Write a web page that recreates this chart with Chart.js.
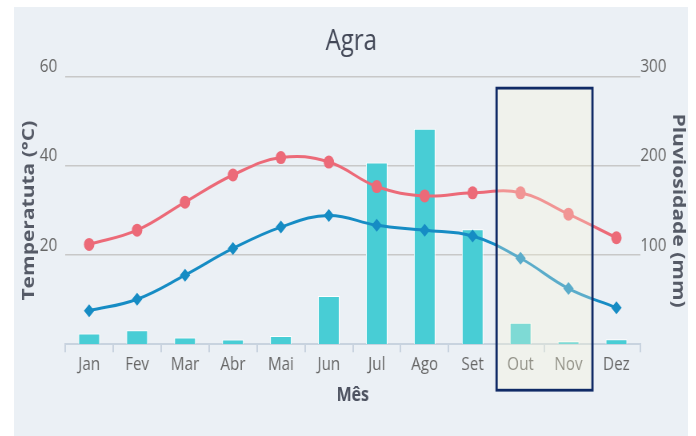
<!doctype html>
<html>
    <head>
        <meta charset="UTF-8" />
        <title>Agra</title>
        <script src="https://cdn.jsdelivr.net/npm/chart.js"></script>
        <style>
            body { margin: 0; background: #ffffff; }
            #wrap { position: absolute; left: 14px; top: 7px; width: 674px; height: 429px; background: #ebf0f5; overflow: hidden; }
            /* the reference is squeezed sideways, so the chart is drawn wider and scaled down */
            #myChart { transform: scaleX(0.8); transform-origin: 0 0; }
        </style>
    </head>

    <body>
        <div id="wrap"><canvas id="myChart" width="843" height="429"></canvas></div>

        <script>
        // data
        var meses = ['Jan', 'Fev', 'Mar', 'Abr', 'Mai', 'Jun', 'Jul', 'Ago', 'Set', 'Out', 'Nov', 'Dez'];
        var tempMax = [22.4, 25.6, 31.9, 38, 41.9, 40.9, 35.4, 33.3, 34, 34, 29.2, 23.9];
        var tempMin = [7.5, 10.1, 15.5, 21.5, 26.3, 28.9, 26.7, 25.6, 24.3, 19.3, 12.5, 8.2];
        var chuva = [12, 15.7, 7.5, 5.3, 9.3, 54, 204, 242, 129, 24, 3.4, 5.6];
        var tempTicks = [20, 40, 60];
        var chuvaTicks = [100, 200, 300];

        // highlighted months (Out .. Nov)
        var destaqueInicio = 9;
        var destaqueFim = 10;

        var FONT = "'Open Sans', sans-serif";

        // draws the box over the highlighted months
        var destaquePlugin = {
            id: 'destaque',
            afterDatasetsDraw: function (chart) {
                var x = chart.scales.x, y = chart.scales.yTemp;
                var left = (x.getPixelForValue(destaqueInicio - 1) + x.getPixelForValue(destaqueInicio)) / 2;
                var right = (x.getPixelForValue(destaqueFim) + x.getPixelForValue(destaqueFim + 1)) / 2;
                var top = y.getPixelForValue(57.5);
                var bottom = chart.chartArea.bottom + 46;
                var c = chart.ctx;
                c.save();
                c.fillStyle = 'rgba(252, 247, 215, 0.3)';
                c.fillRect(left, top, right - left, bottom - top);
                c.strokeStyle = '#102a66';
                c.lineWidth = 2.8;
                c.strokeRect(left, top, right - left, bottom - top);
                c.restore();
            }
        };

        var ctx = document.getElementById('myChart').getContext('2d');
        var myChart = new Chart(ctx, {
            type: 'bar',
            data: {
                labels: meses,
                datasets: [{
                    type: 'line',
                    label: 'Máxima',
                    data: tempMax,
                    yAxisID: 'yTemp',
                    borderColor: '#ec6a78',
                    backgroundColor: '#ec6a78',
                    borderWidth: 3,
                    tension: 0.4,
                    pointStyle: 'circle',
                    pointRadius: 6.5,
                    pointBorderWidth: 0,
                    order: 0
                }, {
                    type: 'line',
                    label: 'Mínima',
                    data: tempMin,
                    yAxisID: 'yTemp',
                    borderColor: '#168cc4',
                    backgroundColor: '#168cc4',
                    borderWidth: 3,
                    tension: 0.4,
                    pointStyle: 'rectRot',
                    pointRadius: 6.5,
                    pointBorderWidth: 0,
                    order: 1
                }, {
                    type: 'bar',
                    label: 'Pluviosidade',
                    data: chuva,
                    yAxisID: 'yChuva',
                    backgroundColor: '#48cdd5',
                    borderColor: '#ffffff',
                    borderWidth: 1,
                    barPercentage: 0.45,
                    categoryPercentage: 1,
                    order: 2
                }]
            },
            options: {
                responsive: false,
                animation: false,
                layout: { padding: { left: 0, right: 0, top: 0, bottom: 29 } },
                plugins: {
                    legend: { display: false },
                    tooltip: { enabled: false },
                    title: {
                        display: true,
                        text: 'Agra',
                        color: '#434857',
                        font: { family: FONT, size: 30, weight: 'normal' },
                        padding: { top: 16, bottom: 18 }
                    }
                },
                scales: {
                    x: {
                        offset: true,
                        grid: { offset: true, drawOnChartArea: false, drawTicks: true, tickLength: 8, color: '#c8d3df', lineWidth: 2 },
                        border: { color: '#c8d3df', width: 2 },
                        ticks: { color: '#666666', font: { family: FONT, size: 19 }, padding: 1 },
                        title: { display: true, text: 'Mês', color: '#4d5260', font: { family: FONT, size: 20, weight: 'bold' }, padding: { top: 6, bottom: 0 } }
                    },
                    yTemp: {
                        position: 'left',
                        min: 0,
                        max: 60,
                        afterBuildTicks: function (s) { s.ticks = tempTicks.map(function (v) { return { value: v }; }); },
                        afterFit: function (s) { s.width = 64; },
                        grid: { color: '#c8c8c8', lineWidth: 1.5, drawTicks: false },
                        border: { display: false },
                        ticks: { color: '#666666', font: { family: FONT, size: 19 }, padding: 10, labelOffset: -10 },
                        title: { display: true, text: 'Temperatuta (°C)', color: '#555a66', font: { family: FONT, size: 21, weight: 'bold' }, padding: { top: 6, bottom: 0 } }
                    },
                    yChuva: {
                        position: 'right',
                        min: 0,
                        max: 300,
                        afterBuildTicks: function (s) { s.ticks = chuvaTicks.map(function (v) { return { value: v }; }); },
                        afterFit: function (s) { s.width = 60; },
                        grid: { drawOnChartArea: false, drawTicks: false },
                        border: { display: false },
                        ticks: { color: '#666666', font: { family: FONT, size: 19 }, padding: 0, labelOffset: -10 },
                        title: { display: true, text: 'Pluviosidade (mm)', color: '#555a66', font: { family: FONT, size: 21, weight: 'bold' }, padding: { top: 0, bottom: 0 } }
                    }
                }
            },
            plugins: [destaquePlugin]
        });
        </script>
    </body>
</html>
